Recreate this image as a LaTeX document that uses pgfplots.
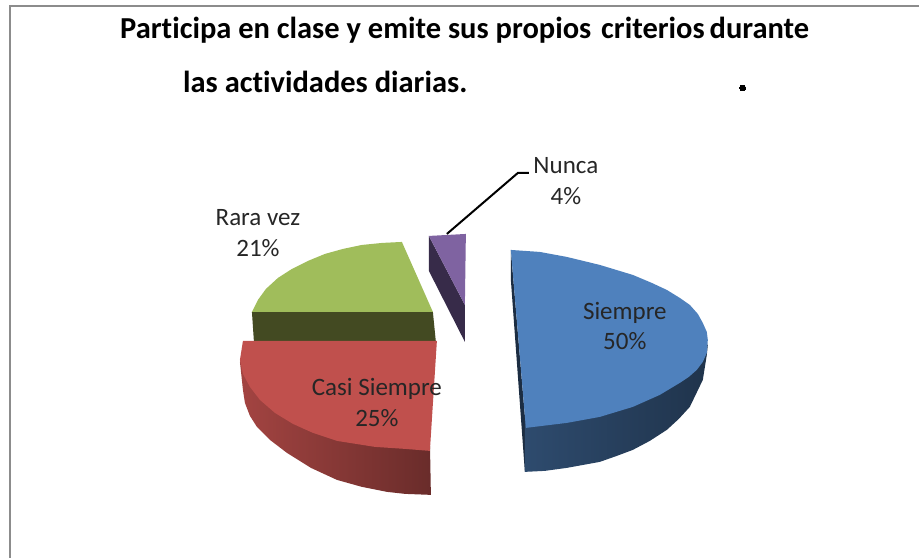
\documentclass[border=0pt]{standalone}
\usepackage{fontspec}
\setmainfont{Carlito}[Ligatures=NoCommon]
\usepackage{pgfplots}
\pgfplotsset{compat=1.18}
\definecolor{gT}{HTML}{A0BD5B}
\definecolor{gS}{HTML}{434A22}
\definecolor{rT}{HTML}{C0504D}
\definecolor{bT}{HTML}{4F81BD}
\definecolor{pT}{HTML}{7F63A1}
\definecolor{pS}{HTML}{372B49}
\begin{document}
\begin{tikzpicture}
\begin{axis}[
  at={(0pt,0pt)},anchor=south west,
  scale only axis,width=920pt,height=559pt,
  xmin=0,xmax=920,ymin=0,ymax=559,y dir=reverse,
  hide axis,clip=false,
  every axis plot/.append style={mark=none,line width=0pt}]
% page extent
\addplot[draw=none] coordinates {(0,0) (920,559)};
% frame
\addplot[draw=black!45,line width=2.5pt] coordinates {(10,558) (10,6) (919,6)};
% Rara vez
\addplot[draw=none,fill=gS] coordinates {(252,312) (433,312) (436,342) (254,342)} -- cycle;
\addplot[draw=none,fill=gT] coordinates {(252,312) (258,300) (266,289) (278,278) (292,269) (308,261) (325,254) (343,249) (362,245) (382,243) (402,242) (433,312)} -- cycle;
% Casi Siempre
\addplot[draw=none,left color=rT!85!black,right color=rT!55!black] coordinates {(240,362) (250,350) (430,440) (431,495) (405,494) (387,492) (362,487) (337,480) (311,468) (287,453) (270,440) (257,427) (250,416) (245,403) (243,390)} -- cycle;
\addplot[draw=none,fill=rT] coordinates {(243,341) (437,341) (430,451) (405,449) (375,447) (337,441) (313,433) (293,424) (275,413) (260,400) (250,387) (243,374) (240,360)} -- cycle;
% Nunca
\addplot[draw=none,fill=pS] coordinates {(429,236) (429,271) (465,342) (465,305)} -- cycle;
\addplot[draw=none,fill=pT] coordinates {(429,236) (466,234) (465,305)} -- cycle;
% Siempre
\addplot[draw=none,fill=bT!35!black] coordinates {(511,250) (511,280) (525,472) (526,428)} -- cycle;
\addplot[draw=none,left color=bT!58!black,middle color=bT!38!black,right color=bT!40!black] coordinates {(525,420) (600,400) (700,340) (708,345) (707,355) (703,380) (690,407) (679,419) (667,430) (650,441) (633,450) (617,456) (600,462) (567,468) (545,471) (525,472)} -- cycle;
\addplot[draw=none,fill=bT] coordinates {(511,250) (540,252) (567,257) (600,265) (633,275) (652,283) (667,290) (680,298) (690,305) (698,314) (703,323) (707,332) (708,340) (707,353) (703,362) (697,370) (689,377) (680,383) (660,395) (633,407) (600,417) (567,423) (526,428)} -- cycle;
% leader
\addplot[draw=black,line width=2pt] coordinates {(447,234) (518,173) (529,173)};
% period
\addplot[only marks,mark=*,mark size=2.9pt,mark options={fill=black,draw=black}] coordinates {(743,88)};
% texts
\node[font=\fontsize{30.5}{30.5}\selectfont\bfseries,anchor=base west,inner sep=0pt] at (axis cs:120,39) {Participa en clase y emite sus propios\hspace{3pt} criterios\hspace{-2pt} durante};
\node[font=\fontsize{30.5}{30.5}\selectfont\bfseries,anchor=base west,inner sep=0pt] at (axis cs:183,93) {las actividades diarias.};
\tikzset{lab/.style={font=\fontsize{25}{25}\selectfont,text=black!85,inner sep=0pt,anchor=base}}
\node[lab] at (axis cs:258,226) {Rara vez};
\node[lab] at (axis cs:258,257) {21\%};
\node[lab] at (axis cs:566,174) {Nunca};
\node[lab] at (axis cs:566,205) {4\%};
\node[lab] at (axis cs:625,320) {Siempre};
\node[lab] at (axis cs:625,350) {50\%};
\node[lab] at (axis cs:377,396) {Casi Siempre};
\node[lab] at (axis cs:377,427) {25\%};
\end{axis}
\end{tikzpicture}
\end{document}
